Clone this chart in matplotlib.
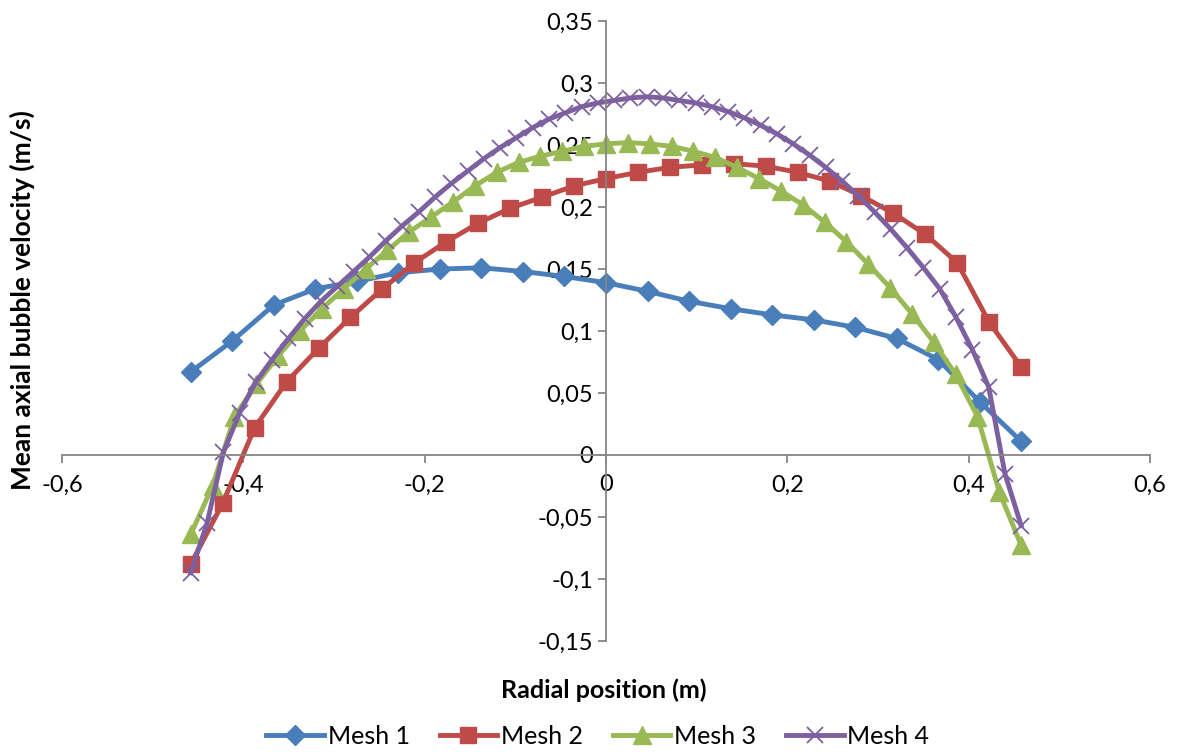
import numpy as np
import matplotlib.pyplot as plt
from matplotlib.ticker import FuncFormatter, MultipleLocator

# radial positions (m), evenly spaced across the column
x_mesh1 = np.linspace(-0.458, 0.458, 21)
x_mesh2 = np.linspace(-0.458, 0.458, 27)
x_mesh3 = np.linspace(-0.458, 0.458, 39)
x_mesh4 = np.linspace(-0.458, 0.458, 52)

# mean axial bubble velocity (m/s)
v_mesh1 = [0.067, 0.092, 0.121, 0.134, 0.140, 0.147, 0.150, 0.151, 0.148, 0.144,
           0.139, 0.132, 0.124, 0.118, 0.113, 0.109, 0.103, 0.094, 0.077, 0.043, 0.011]
v_mesh2 = [-0.088, -0.039, 0.022, 0.059, 0.086, 0.111, 0.134, 0.155, 0.172, 0.187,
           0.199, 0.208, 0.217, 0.223, 0.228, 0.232, 0.234, 0.235, 0.233, 0.228,
           0.221, 0.209, 0.195, 0.178, 0.155, 0.107, 0.071]
v_mesh3 = [-0.064, -0.025, 0.031, 0.057, 0.080, 0.100, 0.118, 0.134, 0.150, 0.165,
           0.180, 0.192, 0.204, 0.217, 0.228, 0.236, 0.241, 0.245, 0.249, 0.251,
           0.252, 0.251, 0.249, 0.245, 0.240, 0.232, 0.223, 0.213, 0.202, 0.188,
           0.172, 0.154, 0.135, 0.114, 0.091, 0.065, 0.031, -0.030, -0.073]
v_mesh4 = [-0.095, -0.055, 0.002, 0.034, 0.059, 0.077, 0.094, 0.110, 0.124, 0.136,
           0.148, 0.160, 0.173, 0.185, 0.196, 0.208, 0.219, 0.229, 0.239, 0.248,
           0.256, 0.264, 0.271, 0.276, 0.281, 0.284, 0.286, 0.288, 0.289, 0.288,
           0.286, 0.284, 0.281, 0.277, 0.272, 0.266, 0.259, 0.251, 0.242, 0.232,
           0.221, 0.209, 0.196, 0.182, 0.167, 0.151, 0.134, 0.111, 0.085, 0.055,
           -0.015, -0.057]

labels = ["Mesh 1", "Mesh 2", "Mesh 3", "Mesh 4"]

plt.rcParams['font.family'] = ['Lato', 'DejaVu Sans']

fig = plt.figure(figsize=(11.77, 7.54), dpi=100)
ax = fig.add_axes([0.0527, 0.150, 0.9243, 0.822])

ax.plot(x_mesh1, v_mesh1, color='#4A7EBB', lw=3.5, marker='D', ms=10,
        label=labels[0])
ax.plot(x_mesh2, v_mesh2, color='#BE4B48', lw=3.5, marker='s', ms=12,
        label=labels[1])
ax.plot(x_mesh3, v_mesh3, color='#98B954', lw=3.5, marker='^', ms=13,
        label=labels[2])
ax.plot(x_mesh4, v_mesh4, color='#7D60A0', lw=3.5, marker='x', ms=11, mew=1.3,
        label=labels[3])

ax.set_xlim(-0.6, 0.6)
ax.set_ylim(-0.15, 0.35)
ax.xaxis.set_major_locator(MultipleLocator(0.2))
ax.yaxis.set_major_locator(MultipleLocator(0.05))
comma = FuncFormatter(lambda v, p: ('%g' % round(v, 3)).replace('.', ','))
ax.xaxis.set_major_formatter(comma)
ax.yaxis.set_major_formatter(comma)

for side in ('top', 'right'):
    ax.spines[side].set_visible(False)
ax.spines['left'].set_position(('data', 0))
ax.spines['bottom'].set_position(('data', 0))
for side in ('left', 'bottom'):
    ax.spines[side].set_color('#868686')
    ax.spines[side].set_linewidth(1.3)
ax.tick_params(colors='#868686', labelcolor='black', labelsize=17, length=6, width=1.3)
ax.tick_params(axis='x', pad=8)

fig.text(0.513, 0.085, "Radial position (m)", ha='center', va='center',
         fontsize=18, fontweight='bold')
fig.text(0.019, 0.602, "Mean axial bubble velocity (m/s)", ha='center', va='center',
         rotation=90, fontsize=19, fontweight='bold')

fig.legend(loc='lower center', bbox_to_anchor=(0.508, -0.022), ncol=4, frameon=False,
           fontsize=18, handlelength=2.3, columnspacing=1.2, handletextpad=0.15)

fig.savefig("out.png", dpi=100)
